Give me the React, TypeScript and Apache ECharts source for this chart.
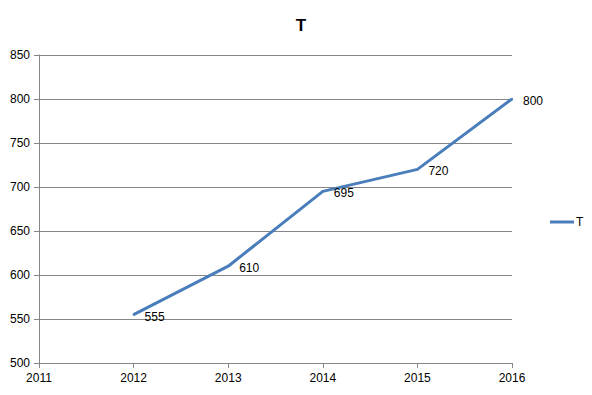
import React, { useEffect, useRef } from "react";
import * as echarts from "echarts";

const years = [2012, 2013, 2014, 2015, 2016];
const values = [555, 610, 695, 720, 800];
const seriesName = "T";
const titleText = "T";

export default function App() {
  const ref = useRef<HTMLDivElement>(null);
  useEffect(() => {
    if (!ref.current) return;
    const chart = echarts.init(ref.current, null, { renderer: "svg" });
    const font = "'Liberation Sans', Arial, sans-serif";
    chart.setOption({
      animation: false,
      backgroundColor: "#ffffff",
      title: {
        text: titleText,
        left: 296,
        top: 12,
        textAlign: "center",
        textStyle: { fontFamily: font, fontSize: 17, fontWeight: "bold", color: "#000" },
      },
      legend: {
        data: [{ name: seriesName, itemStyle: { color: "#4A7EBB", opacity: 1 } }],
        left: 545,
        top: 211,
        orient: "vertical",
        itemWidth: 24,
        itemHeight: 10,
        itemGap: 4,
        icon: "path://M0,4 L24,4 L24,7 L0,7 Z",
        textStyle: { fontFamily: font, fontSize: 12, color: "#000", padding: [0, 0, 0, -3] },
      },
      grid: { left: 39, right: 80, top: 55, bottom: 32, containLabel: false },
      xAxis: {
        type: "value",
        min: 2011,
        max: 2016,
        interval: 1,
        axisLine: { show: true, lineStyle: { color: "#868686", width: 1 } },
        axisTick: { show: true, length: 5, lineStyle: { color: "#868686" } },
        axisLabel: { fontFamily: font, fontSize: 12, color: "#000", margin: 9, formatter: (v: number) => String(v) },
        splitLine: { show: false },
      },
      yAxis: {
        type: "value",
        min: 500,
        max: 850,
        interval: 50,
        axisLine: { show: true, lineStyle: { color: "#868686", width: 1 } },
        axisTick: { show: true, length: 5, lineStyle: { color: "#868686" } },
        axisLabel: { fontFamily: font, fontSize: 12, color: "#000", margin: 9 },
        splitLine: { show: true, lineStyle: { color: "#868686", width: 1 } },
      },
      series: [
        {
          name: seriesName,
          type: "line",
          data: years.map((y, i) => [y, values[i]]),
          symbol: "circle",
          symbolSize: 2,
          showSymbol: true,
          lineStyle: { color: "#4A7EBB", width: 3 },
          itemStyle: { color: "#4A7EBB", borderWidth: 0 },
          label: {
            show: true,
            position: "right",
            distance: 10,
            offset: [0, 2],
            fontFamily: font,
            fontSize: 12,
            color: "#000",
          },
        },
      ],
    });
    return () => chart.dispose();
  }, []);
  return <div ref={ref} style={{ width: 592, height: 395, position: "absolute", left: 0, top: 0 }} />;
}
